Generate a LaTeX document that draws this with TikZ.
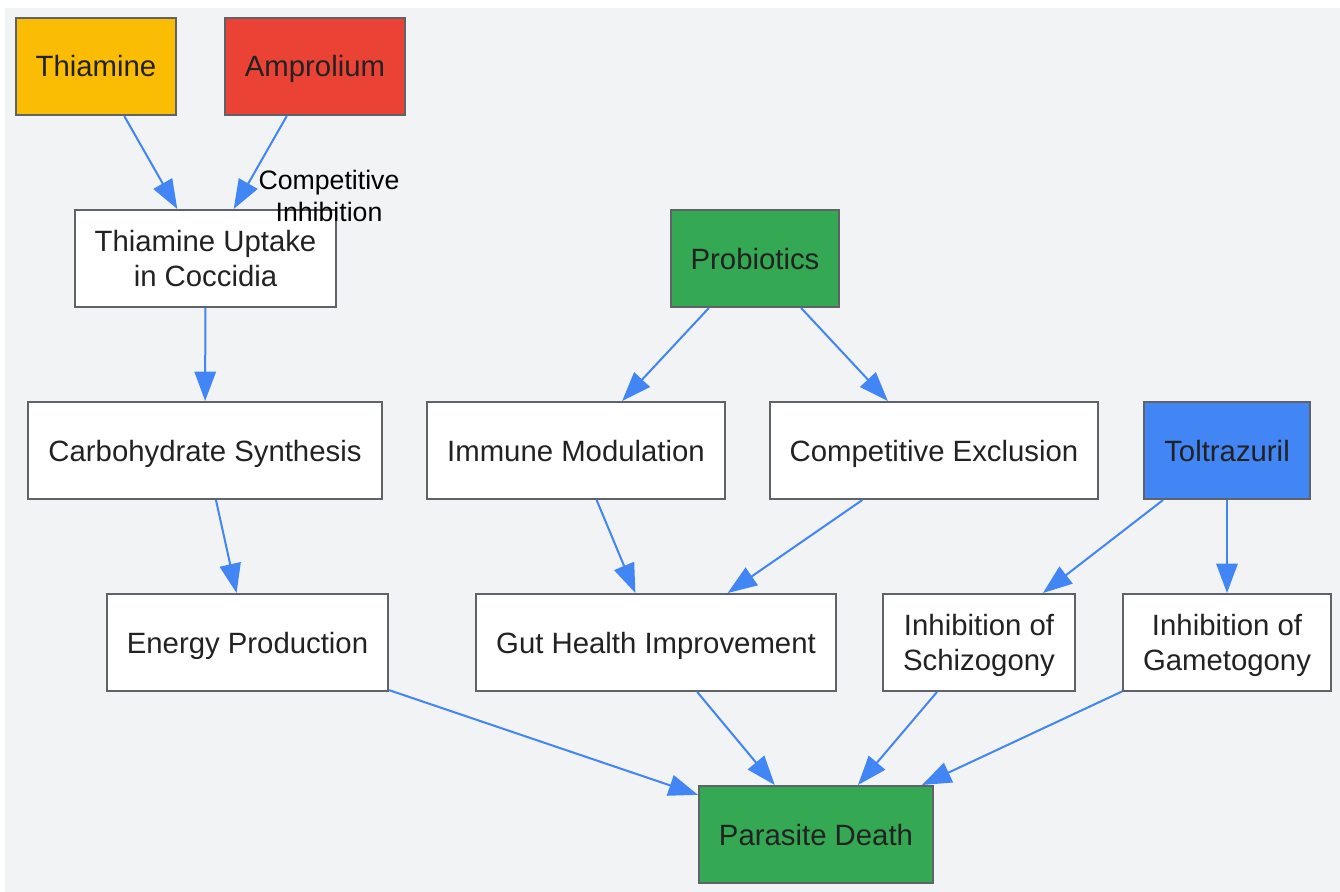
\documentclass[tikz,border=0pt]{standalone}
\usepackage{fontspec}
\setmainfont{Liberation Sans}
\usetikzlibrary{arrows.meta}
\definecolor{fondo}{RGB}{241,243,245}
\definecolor{borde}{RGB}{95,99,104}
\definecolor{texto}{RGB}{34,34,34}
\definecolor{amarillo}{RGB}{251,188,4}
\definecolor{rojo}{RGB}{234,67,53}
\definecolor{verde}{RGB}{52,168,83}
\definecolor{azul}{RGB}{66,133,244}
\newcommand{\puntal}{\rule[-5pt]{0pt}{25.75pt}}
\tikzset{
	caja/.style={draw=borde, line width=1.5pt, text=texto, minimum height=72.75pt,
		inner xsep=15pt, align=center, font=\fontsize{22}{26.5}\selectfont,
		execute at begin node=\puntal,
		execute at end node=\puntal},
	flecha/.style={draw=azul, line width=1.5pt, -{Triangle[length=22pt,width=16pt]}},
	etiqueta/.style={align=center, text=black, font=\fontsize{20}{24}\selectfont},
}
\begin{document}
\begin{tikzpicture}[x=0.75pt,y=-0.75pt]
\useasboundingbox (0,0) rectangle (1340,892);
\fill[fondo] (5,8) rectangle (1340,892);
% cajas
\foreach \Nombre/\Xc/\Yc/\Color/\Texto in 
{thiamine/96/66.5/amarillo/Thiamine,
 amprolium/315/66.5/rojo/Amprolium,
 uptake/205.5/258.5/white/{Thiamine Uptake\puntal\\in Coccidia},
 probiotics/755/258.5/verde/Probiotics,
 carb/205/450.5/white/Carbohydrate Synthesis,
 immune/576/450.5/white/Immune Modulation,
 exclusion/934/450.5/white/Competitive Exclusion,
 toltrazuril/1227/450.5/azul/Toltrazuril,
 energy/247.5/642.5/white/Energy Production,
 gut/656/642.5/white/Gut Health Improvement,
 schizogony/979/642.5/white/{Inhibition of\puntal\\Schizogony},
 gametogony/1227/642.5/white/{Inhibition of\puntal\\Gametogony},
 death/816/834.5/verde/Parasite Death}
{
	\node[caja, fill=\Color] (\Nombre) at (\Xc,\Yc) {\Texto};
}
% flechas
\foreach \A/\B in 
{thiamine/uptake, amprolium/uptake, uptake/carb,
 probiotics/immune, probiotics/exclusion, carb/energy,
 immune/gut, exclusion/gut, toltrazuril/schizogony,
 toltrazuril/gametogony, energy/death, gut/death,
 schizogony/death, gametogony/death}
{
	\draw[flecha] (\A) -- (\B);
}
\node[etiqueta] (inhibicion) at (329,196) {Competitive\\Inhibition};
\end{tikzpicture}
\end{document}
